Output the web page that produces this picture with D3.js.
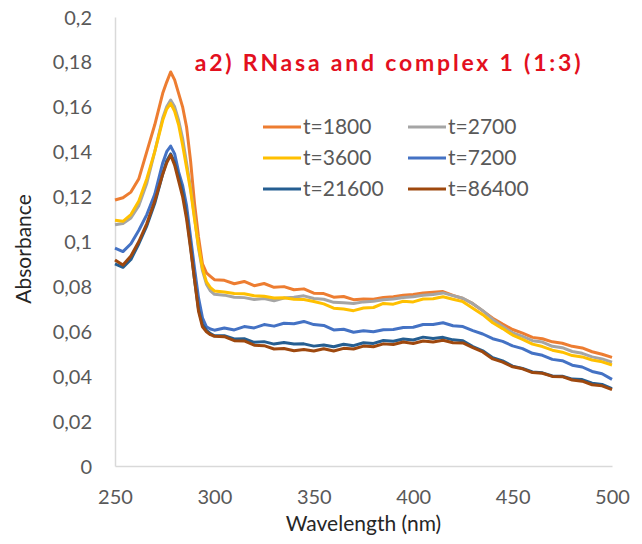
<!DOCTYPE html>
<html>
<head>
<meta charset="utf-8">
<script src="https://cdn.jsdelivr.net/npm/d3@7"></script>
<style>
    body { margin: 0; background: #fff; }
    svg text { font-family: Lato, "Open Sans", sans-serif; }
</style>
</head>
<body>
<script>
//wavelength values shared by every series (nm)
var wavelengths = [250,254,258,262,266,270,274,276,278,280,282,284,286,288,290,292,294,296,298,300,
    305,310,315,320,325,330,335,340,345,350,355,360,365,370,375,380,385,390,395,400,
    405,410,415,420,425,430,435,440,445,450,455,460,465,470,475,480,485,490,495,500];

//series names
var seriesNames = ["t=1800", "t=2700", "t=3600", "t=7200", "t=21600", "t=86400"];

//absorbance values
var t1800 = [0.1185,0.1195,0.122,0.128,0.140,0.152,0.166,0.171,0.1755,0.172,0.166,0.160,0.151,0.136,0.117,0.102,0.090,0.086,0.0845,0.083,
    0.0827,0.0812,0.0822,0.0803,0.0813,0.0796,0.0799,0.0785,0.0789,0.0770,0.0768,0.0752,0.0755,0.0741,0.0744,0.0743,0.0751,0.0754,0.0761,0.0764,
    0.0771,0.0774,0.0777,0.0760,0.0746,0.0723,0.0691,0.0658,0.0632,0.0608,0.0592,0.0573,0.0567,0.0553,0.0547,0.0533,0.0526,0.0509,0.0498,0.0484];
var t2700 = [0.1075,0.108,0.1105,0.116,0.126,0.140,0.155,0.160,0.163,0.160,0.154,0.146,0.135,0.124,0.111,0.097,0.087,0.081,0.078,0.0765,
    0.0761,0.0752,0.0750,0.0742,0.0746,0.0736,0.0748,0.0752,0.0758,0.0746,0.0743,0.0729,0.0727,0.0724,0.0731,0.0734,0.0741,0.0744,0.0751,0.0754,
    0.0761,0.0764,0.0771,0.0759,0.0747,0.0723,0.0692,0.0653,0.0622,0.0593,0.0577,0.0558,0.0552,0.0533,0.0527,0.0510,0.0502,0.0486,0.0477,0.0462];
var t3600 = [0.1095,0.109,0.112,0.118,0.128,0.140,0.154,0.159,0.1615,0.158,0.152,0.143,0.133,0.123,0.110,0.098,0.088,0.082,0.0795,0.078,
    0.0775,0.0768,0.0767,0.0758,0.0756,0.0748,0.0749,0.0743,0.0742,0.0733,0.0722,0.0703,0.0699,0.0692,0.0704,0.0706,0.0724,0.0721,0.0734,0.0731,
    0.0744,0.0745,0.0754,0.0743,0.0732,0.0703,0.0674,0.0638,0.0612,0.0583,0.0564,0.0543,0.0532,0.0516,0.0507,0.0492,0.0486,0.0472,0.0464,0.0450];
var t7200 = [0.097,0.0955,0.099,0.105,0.112,0.121,0.135,0.140,0.1425,0.139,0.131,0.125,0.116,0.102,0.088,0.075,0.066,0.062,0.061,0.0605,
    0.0615,0.0606,0.0621,0.0615,0.0630,0.0623,0.0636,0.0634,0.0644,0.0630,0.0626,0.0606,0.0609,0.0596,0.0602,0.0598,0.0607,0.0608,0.0617,0.0618,
    0.0630,0.0630,0.0638,0.0625,0.0621,0.0603,0.0588,0.0567,0.0555,0.0535,0.0523,0.0502,0.0493,0.0475,0.0469,0.0449,0.0441,0.0421,0.0411,0.0386];
var t21600 = [0.090,0.0885,0.092,0.099,0.107,0.117,0.130,0.136,0.139,0.135,0.129,0.122,0.112,0.098,0.083,0.070,0.063,0.0605,0.059,0.058,
    0.0580,0.0566,0.0567,0.0551,0.0554,0.0543,0.0550,0.0543,0.0544,0.0534,0.0539,0.0531,0.0542,0.0536,0.0549,0.0546,0.0559,0.0556,0.0566,0.0561,
    0.0574,0.0568,0.0573,0.0562,0.0558,0.0532,0.0513,0.0482,0.0468,0.0445,0.0435,0.0419,0.0415,0.0401,0.0400,0.0387,0.0385,0.0369,0.0363,0.0345];
var t86400 = [0.0918,0.0895,0.0935,0.100,0.108,0.118,0.130,0.135,0.1385,0.134,0.127,0.120,0.110,0.097,0.083,0.069,0.062,0.0598,0.0585,0.0578,
    0.0576,0.0558,0.0557,0.0538,0.0536,0.0521,0.0523,0.0513,0.0519,0.0512,0.0522,0.0512,0.0524,0.0521,0.0534,0.0531,0.0544,0.0541,0.0552,0.0546,
    0.0557,0.0552,0.0560,0.0549,0.0548,0.0527,0.0508,0.0477,0.0463,0.0442,0.0433,0.0416,0.0413,0.0399,0.0398,0.0383,0.0378,0.0362,0.0357,0.0340];

//line colours
var colors = ["#ED7D31", "#A5A5A5", "#FFC000", "#4472C4", "#255E91", "#9E480E"];

//tick values
var xTicks = [250, 300, 350, 400, 450, 500];
var yTicks = [0, 0.02, 0.04, 0.06, 0.08, 0.1, 0.12, 0.14, 0.16, 0.18, 0.2];

window.onload = setChart();

function setChart(){
    var width = 642,
        height = 544,
        left = 115,
        right = 612,
        top = 17,
        bottom = 466;

    var svg = d3.select("body")
        .append("svg")
        .attr("width", width)
        .attr("height", height);

    var x = d3.scaleLinear().domain([250, 500]).range([left, right]);
    var y = d3.scaleLinear().domain([0, 0.2]).range([bottom, top]);

    //axes, Excel style: light lines, no ticks
    var xAxis = svg.append("g")
        .attr("transform", "translate(0," + bottom + ")")
        .call(d3.axisBottom(x).tickValues(xTicks).tickSize(0).tickPadding(24).tickFormat(d3.format("d")));
    var yAxis = svg.append("g")
        .attr("transform", "translate(" + left + ",0)")
        .call(d3.axisLeft(y).tickValues(yTicks).tickSize(0).tickPadding(23)
            .tickFormat(function(d){ return String(+d.toFixed(2)).replace(".", ","); }));

    svg.selectAll(".domain").attr("stroke", "#d9d9d9").attr("stroke-width", 1.5);
    svg.selectAll(".tick text")
        .attr("fill", "#595959")
        .style("font-size", "20px");
    yAxis.selectAll(".tick text").attr("dy", "0.35em");

    //series lines
    var series = [t1800, t2700, t3600, t7200, t21600, t86400];
    var line = d3.line()
        .x(function(d, i){ return x(wavelengths[i]); })
        .y(function(d){ return y(d); });

    svg.selectAll(".series")
        .data(series)
        .enter()
        .append("path")
        .attr("class", "series")
        .attr("fill", "none")
        .attr("stroke", function(d, i){ return colors[i]; })
        .attr("stroke-width", 3)
        .attr("stroke-linejoin", "round")
        .attr("d", line);

    //title
    svg.append("text")
        .attr("x", 389)
        .attr("y", 71)
        .attr("text-anchor", "middle")
        .attr("fill", "#E3101E")
        .style("font-size", "23px")
        .style("font-weight", "bold")
        .style("letter-spacing", "2.8px")
        .text("a2) RNasa and complex 1 (1:3)");

    //legend
    var legend = svg.selectAll(".legend")
        .data(seriesNames)
        .enter()
        .append("g")
        .attr("class", "legend")
        .attr("transform", function(d, i){
            return "translate(" + (i % 2 === 0 ? 263 : 408) + "," + (127 + Math.floor(i / 2) * 31) + ")";
        });
    legend.append("line")
        .attr("x1", 0).attr("x2", 38)
        .attr("stroke", function(d, i){ return colors[i]; })
        .attr("stroke-width", 3);
    legend.append("text")
        .attr("x", 40)
        .attr("dy", "0.35em")
        .attr("fill", "#595959")
        .style("font-size", "21px")
        .text(function(d){ return d; });

    //axis titles
    svg.append("text")
        .attr("x", (left + right) / 2)
        .attr("y", 531)
        .attr("text-anchor", "middle")
        .attr("fill", "#262626")
        .style("font-size", "21px")
        .text("Wavelength (nm)");
    svg.append("text")
        .attr("transform", "translate(31,249) rotate(-90)")
        .attr("text-anchor", "middle")
        .attr("fill", "#262626")
        .style("font-size", "21px")
        .text("Absorbance");
};
</script>
</body>
</html>
